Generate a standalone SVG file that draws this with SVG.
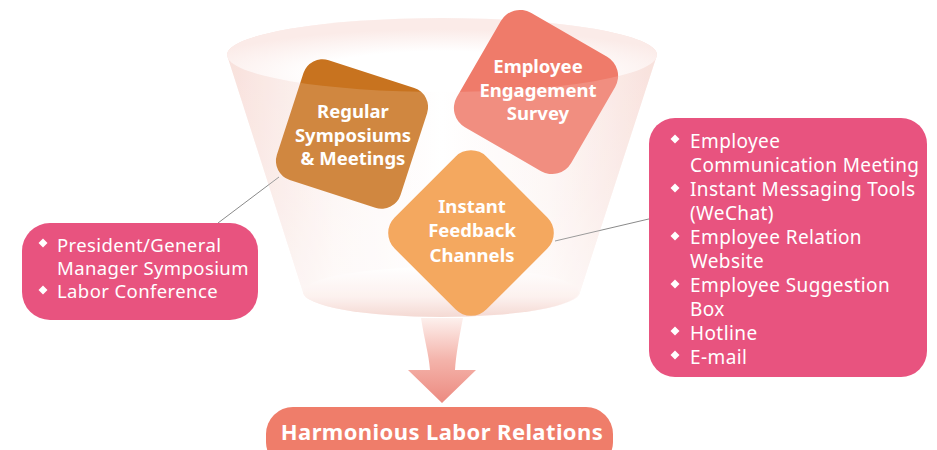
<svg xmlns="http://www.w3.org/2000/svg" width="937" height="450" viewBox="0 0 937 450">
<defs>
<style>
.lbl{font-family:"Noto Sans","Open Sans","Liberation Sans",sans-serif;font-weight:700;fill:#fff;text-anchor:middle;font-size:18.5px}
.lst{font-family:"Noto Sans","Open Sans","Liberation Sans",sans-serif;fill:#fff;font-size:19px;letter-spacing:0.4px}
.lstl{font-family:"Noto Sans","Open Sans","Liberation Sans",sans-serif;fill:#fff;font-size:18.5px;letter-spacing:0.4px}
.pink{fill:#e8537f}
.bul{fill:#fff}
.conn{stroke:#8a8a8a;stroke-width:1;fill:none}
</style>
<linearGradient id="fbody" x1="0" y1="0" x2="1" y2="0">
<stop offset="0" stop-color="#f7dad4"/>
<stop offset="0.25" stop-color="#fdf4f2"/>
<stop offset="0.5" stop-color="#ffffff"/>
<stop offset="0.75" stop-color="#fdf4f2"/>
<stop offset="1" stop-color="#f7dad4"/>
</linearGradient>
<linearGradient id="fvert" x1="0" y1="0" x2="0" y2="1">
<stop offset="0" stop-color="#fff" stop-opacity="0"/>
<stop offset="0.6" stop-color="#fff" stop-opacity="0.2"/>
<stop offset="1" stop-color="#fff" stop-opacity="0.5"/>
</linearGradient>
<radialGradient id="ftop" cx="0.5" cy="0.75" r="0.6">
<stop offset="0.5" stop-color="#ffffff"/>
<stop offset="1" stop-color="#fbebe8"/>
</radialGradient>
<linearGradient id="fbot" x1="0" y1="0" x2="0" y2="1">
<stop offset="0" stop-color="#ffffff"/>
<stop offset="0.6" stop-color="#fcefec"/>
<stop offset="1" stop-color="#f3d3cc"/>
</linearGradient>
<linearGradient id="arrowg" x1="0" y1="0" x2="0" y2="1">
<stop offset="0" stop-color="#fdf0ed"/>
<stop offset="0.5" stop-color="#f4b3aa"/>
<stop offset="1" stop-color="#ec8a80"/>
</linearGradient>
</defs>
<rect width="937" height="450" fill="#fff"/>

<g id="funnel">
<path d="M227,55 L303,292 A138,25 0 0 0 580,292 L657,55 A215,37 0 0 0 227,55 Z" fill="url(#fbody)"/>
<path d="M227,55 L303,292 A138,25 0 0 0 580,292 L657,55 A215,37 0 0 0 227,55 Z" fill="url(#fvert)"/>
<ellipse cx="442" cy="55" rx="215" ry="37" fill="url(#ftop)"/>
<ellipse cx="441" cy="292" rx="138" ry="25" fill="url(#fbot)"/>
</g>

<g id="connectors">
<line class="conn" x1="218" y1="223" x2="279" y2="177"/>
<line class="conn" x1="555" y1="241" x2="653" y2="218"/>
</g>

<g id="node-regular">
<rect x="-65" y="-63" width="130" height="126" rx="20" transform="translate(352,134) rotate(18)" fill="#c8731f"/>
</g>
<g id="node-survey">
<rect x="-66" y="-66" width="132" height="132" rx="22" transform="translate(536,92) rotate(30)" fill="#ef7b6a"/>
</g>
<g id="node-instant">
<rect x="-65" y="-65" width="130" height="130" rx="22" transform="translate(471,233) rotate(45)" fill="#f29944"/>
</g>

<path id="funnel-front" d="M227,55 A215,37 0 0 0 657,55 L580,292 A138,25 0 0 1 303,292 Z" fill="#fff" fill-opacity="0.15"/>

<g id="node-labels">
<text class="lbl" x="353" y="118">Regular</text>
<text class="lbl" x="353" y="142">Symposiums</text>
<text class="lbl" x="353" y="165">&amp; Meetings</text>
<text class="lbl" x="538" y="73">Employee</text>
<text class="lbl" x="538" y="97">Engagement</text>
<text class="lbl" x="538" y="120">Survey</text>
<text class="lbl" x="472" y="213">Instant</text>
<text class="lbl" x="472" y="237">Feedback</text>
<text class="lbl" x="472" y="262">Channels</text>
</g>

<g id="node-left-list">
<rect class="pink" x="22" y="223" width="236" height="97" rx="28"/>
<path class="bul" d="M43,238.5 L47.5,243 L43,247.5 L38.5,243 Z"/>
<path class="bul" d="M43,285.5 L47.5,290 L43,294.5 L38.5,290 Z"/>
<text class="lstl" x="57" y="252">President/General</text>
<text class="lstl" x="57" y="275">Manager Symposium</text>
<text class="lstl" x="57" y="298">Labor Conference</text>
</g>

<g id="node-right-list">
<rect class="pink" x="649" y="118" width="278" height="259" rx="26"/>
<path class="bul" d="M675,134.5 L679.5,139 L675,143.5 L670.5,139 Z"/>
<path class="bul" d="M675,183.5 L679.5,188 L675,192.5 L670.5,188 Z"/>
<path class="bul" d="M675,231.5 L679.5,236 L675,240.5 L670.5,236 Z"/>
<path class="bul" d="M675,279.5 L679.5,284 L675,288.5 L670.5,284 Z"/>
<path class="bul" d="M675,326.5 L679.5,331 L675,335.5 L670.5,331 Z"/>
<path class="bul" d="M675,350.5 L679.5,355 L675,359.5 L670.5,355 Z"/>
<text class="lst" x="690" y="148">Employee</text>
<text class="lst" x="690" y="172">Communication Meeting</text>
<text class="lst" x="690" y="196">Instant Messaging Tools</text>
<text class="lst" x="690" y="220">(WeChat)</text>
<text class="lst" x="690" y="244">Employee Relation</text>
<text class="lst" x="690" y="268">Website</text>
<text class="lst" x="690" y="292">Employee Suggestion</text>
<text class="lst" x="690" y="316">Box</text>
<text class="lst" x="690" y="340">Hotline</text>
<text class="lst" x="690" y="364">E-mail</text>
</g>

<g id="arrow">
<path d="M421,318 C424,338 429,355 430,370 L408,370 L442,403 L476,370 L455,370 C456,355 459,338 463,318 Z" fill="url(#arrowg)"/>
</g>

<g id="node-result">
<rect x="266" y="407" width="347" height="62" rx="27" fill="#ef7d6a"/>
<text class="lbl" x="442" y="440" style="font-size:22px;letter-spacing:0.4px">Harmonious Labor Relations</text>
</g>
</svg>
